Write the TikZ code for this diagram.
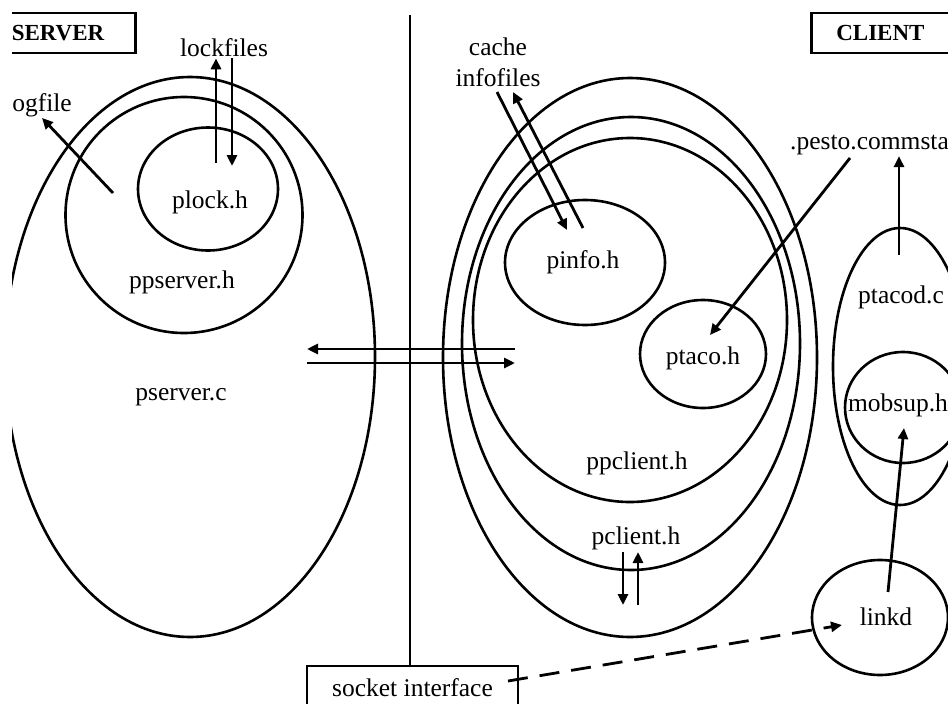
\documentclass[tikz,border=0pt]{standalone}
\usepackage{fontspec}
\setmainfont{Liberation Serif}
\usetikzlibrary{arrows.meta, shapes.geometric}
\tikzset{
  part/.style={draw, ellipse, line width=2.6pt, inner sep=0pt},
  lbl/.style={inner sep=1pt, font=\fontsize{25.5}{31}\selectfont},
  tag/.style={draw, line width=2.6pt, minimum height=40pt, font=\fontsize{23}{26}\selectfont\bfseries},
  flow/.style={line width=2.8pt, -{Triangle[length=11pt, width=10pt]}},
}

\begin{document}
\begin{tikzpicture}[x=1pt, y=-1pt]
\useasboundingbox (0,0) rectangle (948,704);
\clip (12,0) rectangle (948,704);

% server side
\node[part, minimum width=370pt, minimum height=560pt] (pserver) at (190,357) {};
\node[part, minimum width=237pt, minimum height=236pt] (ppserver) at (184,215) {};
\node[part, minimum width=140pt, minimum height=123pt] (plock) at (208,189) {};
\node[lbl] (plocklbl) at (210,202) {plock.h};
\node[lbl] (ppserverlbl) at (182,282) {ppserver.h};
\node[lbl] (pserverlbl) at (181,397) {pserver.c};
\node[tag, minimum width=155pt] (server) at (58,33) {SERVER};
\node[lbl] (lockfiles) at (224,48) {lockfiles};
\node[lbl] (logfile) at (42,105) {ogfile};

% client side
\node[part, minimum width=374pt, minimum height=559pt] (clientmain) at (630,357.5) {};
\node[part, minimum width=338pt, minimum height=453pt] (pclient) at (631,343.5) {};
\node[part, minimum width=314pt, minimum height=364pt] (ppclient) at (630,320) {};
\node[part, minimum width=160pt, minimum height=125pt] (pinfo) at (585,262.5) {};
\node[part, minimum width=126pt, minimum height=108pt] (ptaco) at (703,354) {};
\node[lbl] (pinfolbl) at (583,262) {pinfo.h};
\node[lbl] (ptacolbl) at (703,358) {ptaco.h};
\node[lbl] (ppclientlbl) at (637,463) {ppclient.h};
\node[lbl] (pclientlbl) at (636,538) {pclient.h};
\node[lbl, align=center] (cache) at (498,62) {cache\\infofiles};
\node[tag, anchor=west, inner xsep=25pt] (client) at (810,33) {CLIENT\hspace{40pt}};

\node[part, minimum width=134pt, minimum height=277pt] (ptacod) at (900,366.5) {};
\node[part, minimum width=116pt, minimum height=111pt] (mobsup) at (903,407.5) {};
\node[part, minimum width=136pt, minimum height=115pt] (linkd) at (880,617.5) {};
\node[lbl] (ptacodlbl) at (901,297) {ptacod.c};
\node[lbl] (mobsuplbl) at (898,405) {mobsup.h};
\node[lbl] (linkdlbl) at (886,617) {linkd};
\node[lbl, anchor=west] (pesto) at (789,145) {.pesto.commsta};

% divider and socket
\node[draw, line width=2.6pt, minimum width=211pt, minimum height=44pt, font=\fontsize{25.5}{28}\selectfont] (socket) at (412.5,688) {socket interface};
\coordinate (divtop) at (410,15);
\draw[line width=2.6pt] (divtop) -- (divtop |- socket.north);

% arrows
\coordinate (lgs) at (113,193);
\draw[flow] (lgs) -- (logfile.south);
\coordinate (lkup) at (216,163);
\coordinate (lkdn) at (232,166);
\draw[flow] (lkup) -- (lkup |- lockfiles.south);
\draw[flow] (lkdn |- lockfiles.south) -- (lkdn);

\coordinate (infin) at (567,230);
\coordinate (infout) at (583,228);
\coordinate (infa) at (497,92);
\coordinate (infb) at (513,92);
\draw[flow] (infa) -- (infin);
\draw[flow] (infout) -- (infb);

\coordinate (srvl) at (307,349);
\coordinate (srvr) at (515,349);
\coordinate (clil) at (307,363);
\coordinate (clir) at (515,363);
\draw[flow] (srvr) -- (srvl);
\draw[flow] (clil) -- (clir);

\coordinate (pcdn) at (623,552);
\coordinate (pcup) at (638,605);
\draw[flow] (pcdn) -- ++(0,53);
\draw[flow] (pcup) -- ++(0,-53);

\coordinate (pstart) at (850,158);
\coordinate (ptacoin) at (710,335);
\draw[flow] (pstart) -- (ptacoin);
\coordinate (ptacodin) at (899,255);
\draw[flow] (ptacodin) -- (ptacodin |- pesto.south);
\coordinate (linkdin) at (888,592);
\coordinate (mobsupin) at (904,428);
\draw[flow] (linkdin) -- (mobsupin);

\coordinate (sockout) at (508,681);
\coordinate (linkdend) at (842,625);
\draw[flow, dash pattern=on 20pt off 12pt] (sockout) -- (linkdend);
\end{tikzpicture}
\end{document}
